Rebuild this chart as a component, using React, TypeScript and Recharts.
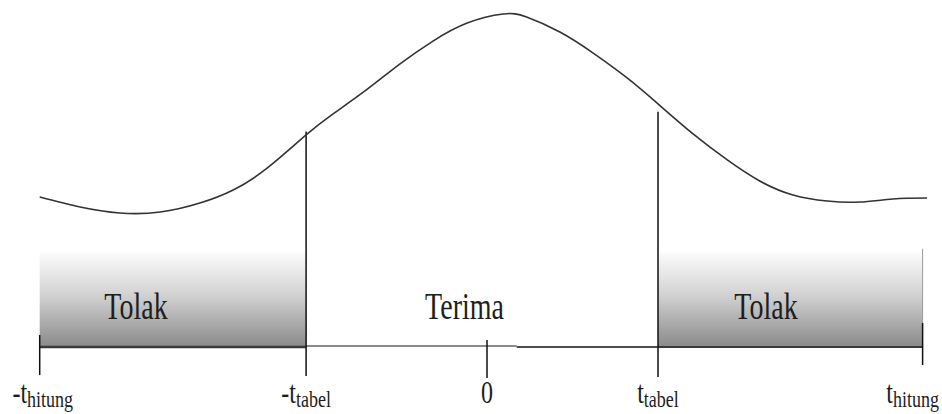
import React from 'react';
import { ComposedChart, Line, XAxis, YAxis, ReferenceArea, ReferenceLine, ReferenceDot } from 'recharts';

// t-distribution curve (t value, relative density)
const curveT = [-4.97, -4.52, -4.08, -3.63, -3.19, -2.82, -2.44, -2.01, -1.71, -1.33, -0.97, -0.6, -0.22, 0.18, 0.44, 0.81, 1.18, 1.56, 1.9, 2.29, 2.67, 3.03, 3.4, 3.78, 4.14, 4.51, 4.89];
const curveDensity = [0.449, 0.419, 0.401, 0.404, 0.431, 0.47, 0.536, 0.635, 0.698, 0.772, 0.847, 0.916, 0.97, 0.997, 0.988, 0.943, 0.88, 0.805, 0.728, 0.638, 0.56, 0.497, 0.455, 0.437, 0.434, 0.443, 0.446];

// boundaries on the t axis: -t hitung, -t tabel, 0, t tabel, t hitung
const boundaryT = [-4.97, -2.01, 0, 1.9, 4.84];
const boundaryMain = ['-t', '-t', '0', 't', 't'];
const boundarySub = ['hitung', 'tabel', '', 'tabel', 'hitung'];
const boundaryTop = [0.036, 0.645, 0.021, 0.704, 0.072];
const boundaryBottom = [-0.084, -0.087, -0.093, -0.09, -0.054];

// regions
const regionNames = ['Tolak', 'Terima', 'Tolak'];
const regionFrom = [-4.97, -2.01, 1.9];
const regionTo = [-2.01, 1.9, 4.84];
const regionShaded = [true, false, true];
const regionLabelT = [-3.9, -0.25, 3.1];
const regionLabelY = 0.084;
const shadeHeight = 0.284;

const data = curveT.map((t, i) => ({ t, d: curveDensity[i] }));

const SERIF = "'Liberation Serif', 'Times New Roman', Times, serif";

const AxisTick = (props: any) => {
  const { x, y, payload, index } = props;
  const i = boundaryT.indexOf(payload.value);
  const k = i >= 0 ? i : index;
  const shift = k === boundaryT.length - 1 ? -10 : k === 0 ? 3 : 0;
  return (
    <text
      transform={`translate(${x + shift},${y + 48}) scale(1,1.3)`}
      textAnchor="middle"
      fontFamily={SERIF}
      fill="#1c1c1c"
    >
      <tspan fontSize={24}>{boundaryMain[k]}</tspan>
      {boundarySub[k] ? (
        <tspan fontSize={18} dy={3}>
          {boundarySub[k]}
        </tspan>
      ) : null}
    </text>
  );
};

const regionLabel = (name: string) => (p: any) => {
  const vb = p.viewBox || {};
  const cx = (vb.x || 0) + (vb.width || 0) / 2;
  const cy = (vb.y || 0) + (vb.height || 0) / 2;
  return (
    <text
      transform={`translate(${cx},${cy}) scale(1,1.33)`}
      textAnchor="middle"
      fontFamily={SERIF}
      fontSize={28}
      fill="#1e1e1e"
    >
      {name}
    </text>
  );
};

export default function App() {
  return (
    <div style={{ position: 'absolute', left: 0, top: 0, background: '#fff' }}>
      <ComposedChart width={942} height={414} data={data} margin={{ top: 13, right: 5, bottom: 0, left: 37 }}>
        <defs>
          <linearGradient id="tolakFill" x1="0" y1="0" x2="0" y2="1">
            <stop offset="0%" stopColor="#fcfcfc" />
            <stop offset="45%" stopColor="#d2d2d2" />
            <stop offset="100%" stopColor="#8a8a8a" />
          </linearGradient>
        </defs>
        <XAxis
          dataKey="t"
          type="number"
          domain={[-5, 5]}
          ticks={boundaryT}
          interval={0}
          axisLine={false}
          tickLine={false}
          height={67}
          tick={<AxisTick />}
        />
        <YAxis type="number" domain={[0, 1]} hide />

        {regionNames.map((name, i) =>
          regionShaded[i] ? (
            <ReferenceArea
              key={`area-${i}`}
              x1={regionFrom[i]}
              x2={regionTo[i]}
              y1={0}
              y2={shadeHeight}
              fill="url(#tolakFill)"
              fillOpacity={1}
              stroke="none"
              ifOverflow="visible"
            />
          ) : null
        )}

        {/* thin right edge of right shaded box */}
        <ReferenceLine
          segment={[{ x: regionTo[2], y: 0 }, { x: regionTo[2], y: shadeHeight + 0.01 }]}
          stroke="#9a9a9a"
          strokeWidth={1}
          ifOverflow="visible"
        />

        {/* base axis */}
        <ReferenceLine segment={[{ x: regionFrom[0], y: 0 }, { x: regionTo[0], y: 0 }]} stroke="#3a3a3a" strokeWidth={2.5} ifOverflow="visible" />
        <ReferenceLine segment={[{ x: regionFrom[1], y: 0.003 }, { x: 0.33, y: 0.003 }]} stroke="#8a8a8a" strokeWidth={2} ifOverflow="visible" />
        <ReferenceLine segment={[{ x: 0.33, y: 0 }, { x: regionTo[1], y: 0 }]} stroke="#111" strokeWidth={1.6} ifOverflow="visible" />
        <ReferenceLine segment={[{ x: regionFrom[2], y: 0 }, { x: regionTo[2], y: 0 }]} stroke="#3a3a3a" strokeWidth={2.2} ifOverflow="visible" />

        {boundaryT.map((t, i) => (
          <ReferenceLine
            key={`b-${i}`}
            segment={[{ x: t, y: boundaryTop[i] }, { x: t, y: boundaryBottom[i] }]}
            stroke="#111"
            strokeWidth={1.5}
            ifOverflow="visible"
          />
        ))}

        <Line
          type="natural"
          dataKey="d"
          stroke="#333"
          strokeWidth={1.6}
          dot={false}
          activeDot={false}
          isAnimationActive={false}
        />

        {regionNames.map((name, i) => (
          <ReferenceDot
            key={`lbl-${i}`}
            x={regionLabelT[i]}
            y={regionLabelY}
            r={1}
            fill="none"
            stroke="none"
            ifOverflow="visible"
            label={regionLabel(name)}
          />
        ))}
      </ComposedChart>
    </div>
  );
}
